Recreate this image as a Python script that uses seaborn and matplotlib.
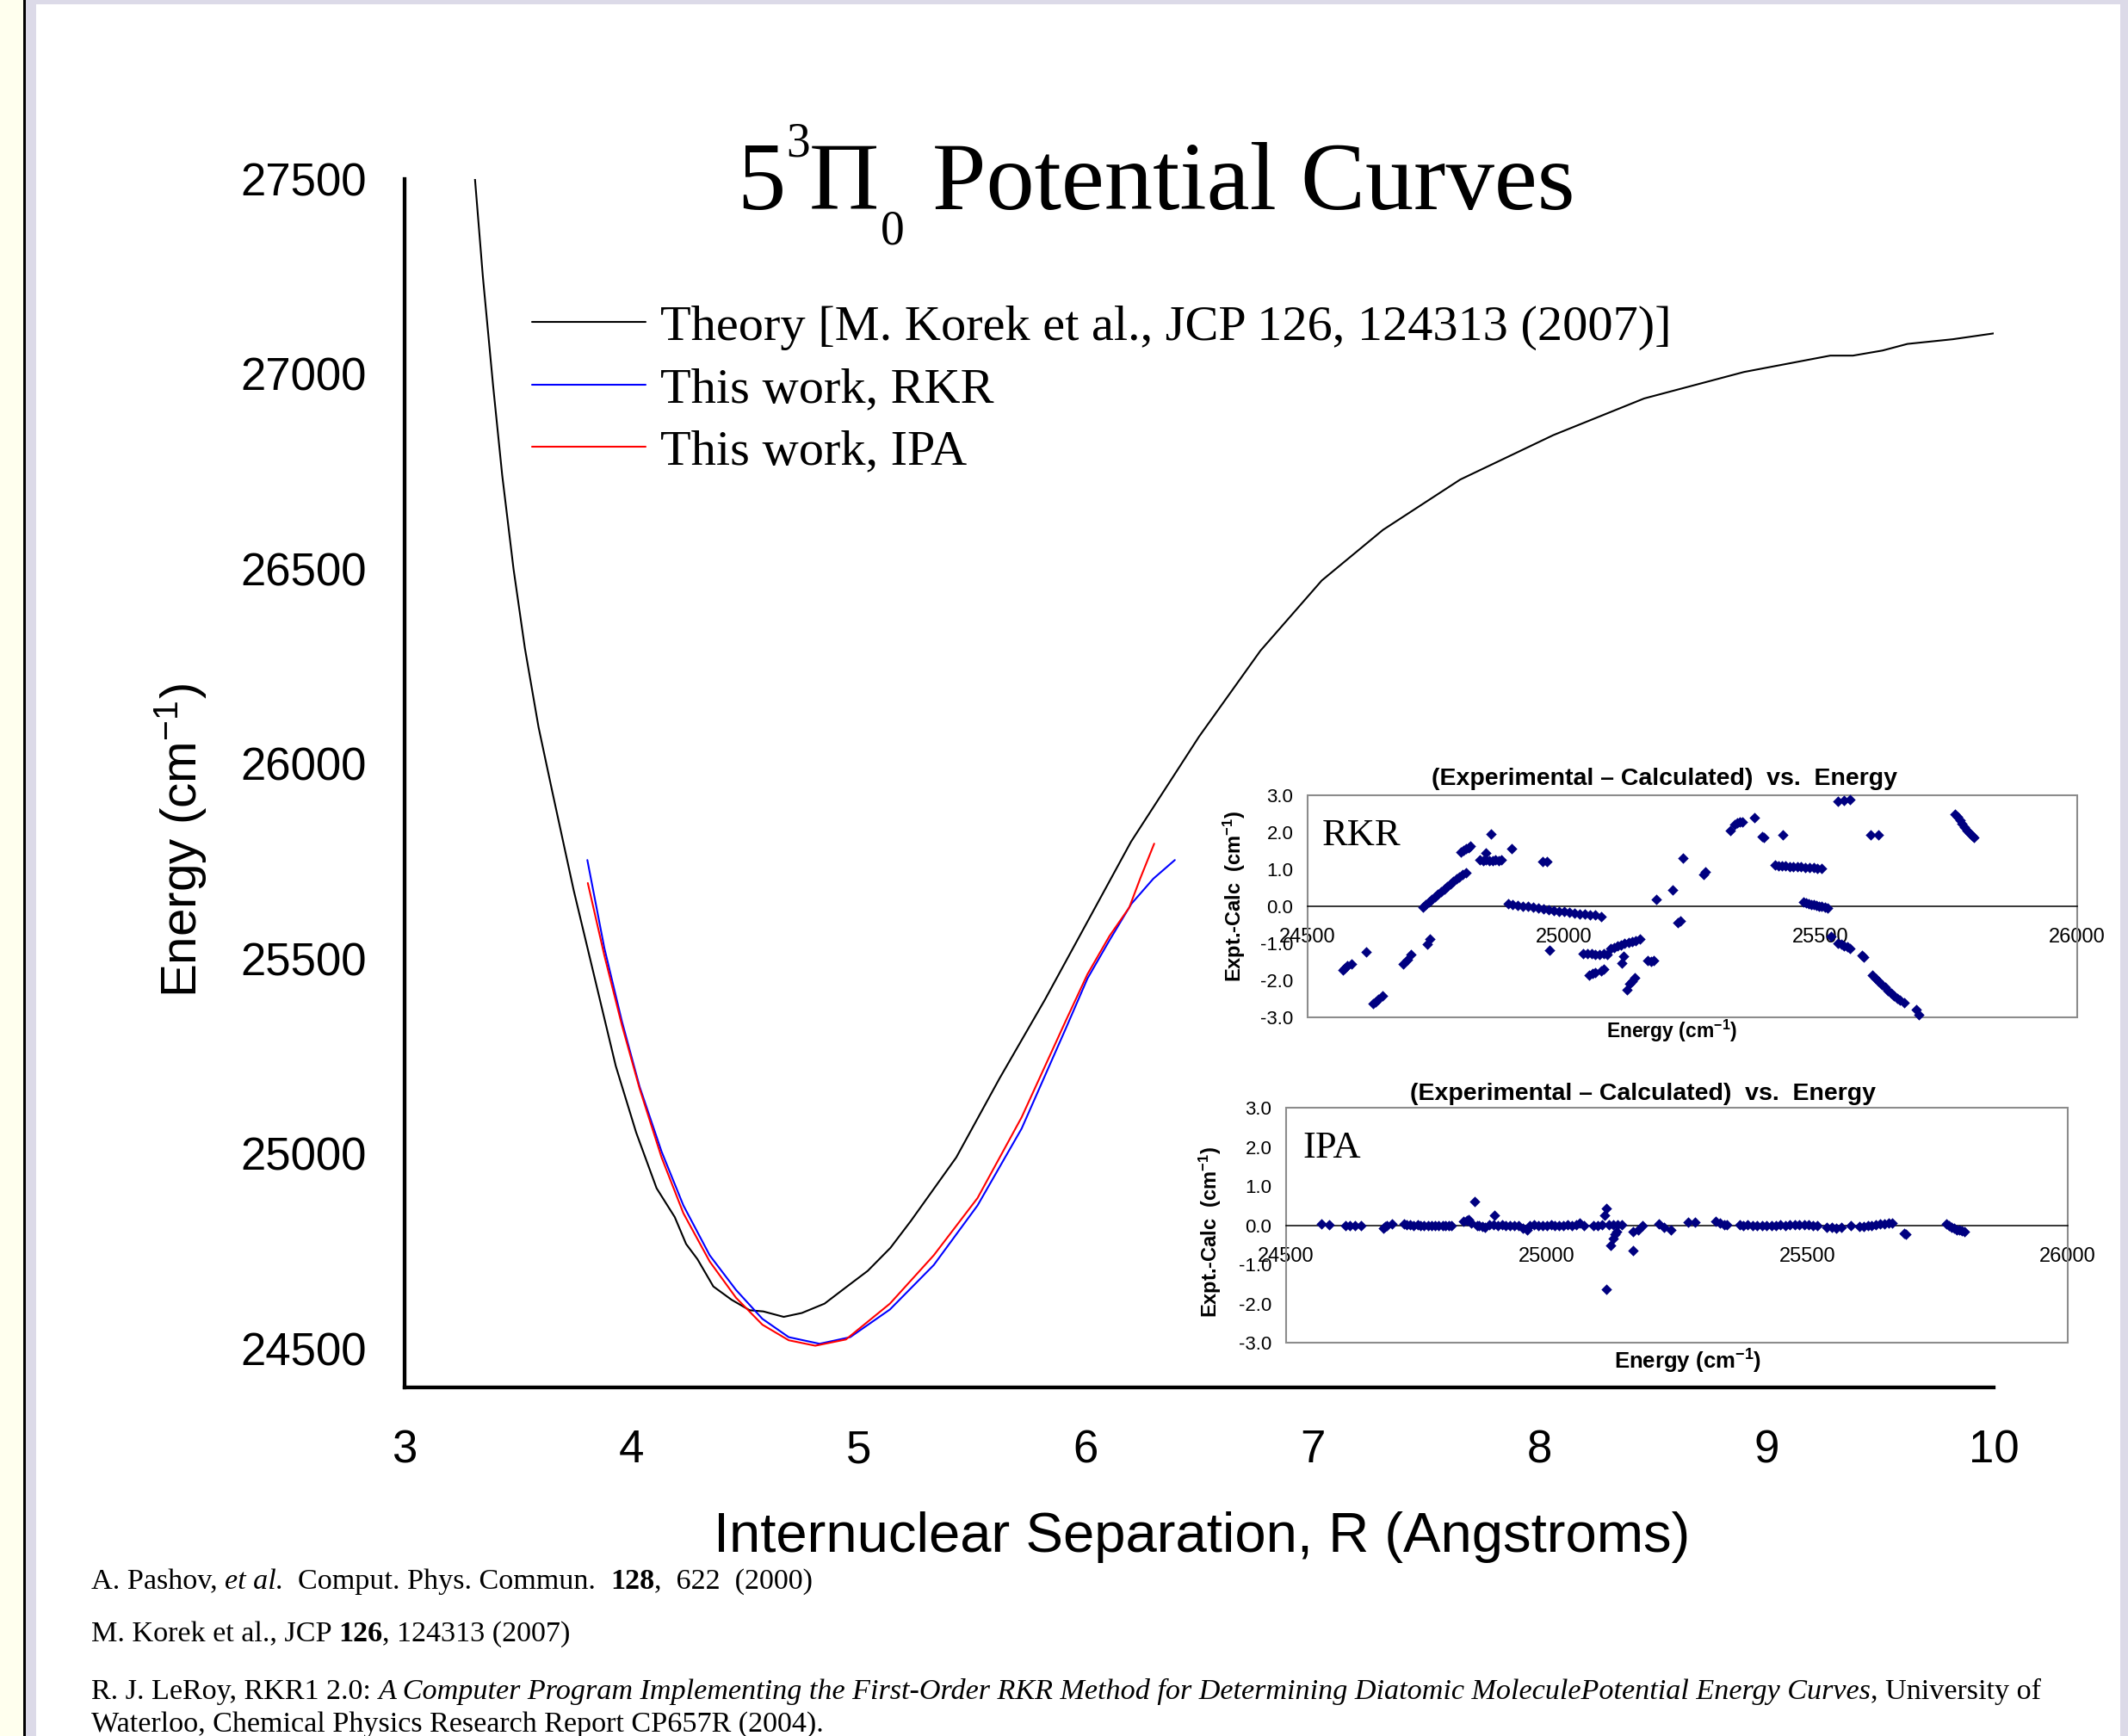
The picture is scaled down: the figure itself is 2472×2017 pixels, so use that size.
import numpy as np
import pandas as pd
import matplotlib
matplotlib.use("Agg")
import matplotlib.pyplot as plt
from matplotlib.patches import Rectangle
from matplotlib.font_manager import FontProperties
import seaborn as sns

W, H, DPI = 2472, 2017, 100

# ---------------- potential curves ----------------
theory_R = [3.31, 3.345, 3.39, 3.43, 3.48, 3.53, 3.59, 3.65, 3.745, 3.81, 3.93, 4.02,
            4.11, 4.19, 4.24, 4.29, 4.36, 4.44, 4.52, 4.58, 4.67, 4.75, 4.85, 4.94,
            5.04, 5.14, 5.23, 5.43, 5.62, 5.82, 6.01, 6.20, 6.50, 6.77, 7.04, 7.31,
            7.65, 8.06, 8.46, 8.90, 9.28, 9.38, 9.51, 9.62, 9.82, 10.0]
theory_E = [27500, 27248, 26969, 26740, 26499, 26296, 26094, 25930, 25675, 25517, 25225, 25054,
            24911, 24837, 24768, 24729, 24659, 24625, 24598, 24595, 24581, 24591, 24615, 24655,
            24699, 24758, 24827, 24990, 25192, 25394, 25597, 25800, 26070, 26290, 26470, 26600,
            26729, 26843, 26937, 27005, 27047, 27047, 27060, 27077, 27089, 27104]

rkr_R = [3.805, 3.88, 3.957, 4.035, 4.132, 4.228, 4.344, 4.46, 4.576, 4.692, 4.828,
         4.963, 5.138, 5.331, 5.524, 5.718, 5.912, 6.008, 6.105, 6.202, 6.298, 6.393]
rkr_E = [25753, 25527, 25340, 25172, 25005, 24867, 24739, 24650, 24576, 24529, 24512,
         24529, 24600, 24714, 24867, 25064, 25320, 25449, 25547, 25641, 25705, 25753]

ipa_R = [3.807, 3.88, 3.957, 4.035, 4.132, 4.228, 4.344, 4.46, 4.576, 4.692, 4.809,
         4.944, 5.138, 5.331, 5.524, 5.718, 5.912, 6.008, 6.105, 6.192, 6.24, 6.302]
ipa_E = [25694, 25508, 25330, 25167, 24990, 24847, 24723, 24630, 24561, 24521, 24507,
         24523, 24615, 24739, 24886, 25093, 25340, 25460, 25558, 25631, 25705, 25795]

series_labels = ["Theory [M. Korek et al., JCP 126, 124313 (2007)]",
                 "This work, RKR",
                 "This work, IPA"]

x_ticks = [3, 4, 5, 6, 7, 8, 9, 10]
y_ticks = [24500, 25000, 25500, 26000, 26500, 27000, 27500]

# ---------------- residuals (Expt - Calc) ----------------
rkr_res_E = [24568, 24572, 24577, 24585, 24614, 24628, 24633, 24638, 24646, 24687, 24694, 24701,
             24734, 24739,
             24724, 24730, 24736, 24742, 24748, 24754, 24760, 24766, 24772, 24778, 24784, 24790,
             24796, 24802, 24809,
             24798, 24803, 24808, 24813, 24817, 24848, 24857,
             24836, 24842, 24848, 24854, 24860, 24866, 24872, 24878, 24897, 24958, 24967, 24971,
             24891, 24900, 24910, 24920, 24930, 24940, 24950, 24960, 24970, 24980, 24990, 25000,
             25010, 25020, 25030, 25040, 25050, 25060, 25072,
             25037, 25045, 25053, 25061, 25069, 25077, 25084,
             25049, 25055, 25061, 25072, 25078,
             25090, 25097, 25104, 25111, 25118, 25125, 25132, 25140, 25148,
             25116, 25113, 25123, 25128, 25133, 25137, 25163, 25170, 25175,
             25180, 25212, 25222, 25226, 25231, 25271, 25275,
             25323, 25333, 25338, 25343, 25347, 25371, 25386, 25390, 25426,
             25411, 25418, 25425, 25432, 25440, 25447, 25455, 25462, 25470, 25478, 25486, 25494, 25502,
             25467, 25472, 25477, 25482, 25487, 25492, 25497, 25502, 25508, 25514,
             25534, 25545, 25557, 25520,
             25534, 25540, 25546, 25552, 25557, 25580, 25584, 25598, 25612,
             25601, 25607, 25613, 25619, 25625, 25631, 25637, 25643, 25649, 25655, 25662,
             25686, 25691,
             25761, 25766, 25771, 25776, 25781, 25786, 25791, 25795, 25799]
rkr_res = [-1.73, -1.68, -1.61, -1.55, -1.24, -2.63, -2.57, -2.52, -2.43, -1.56, -1.45, -1.31,
           -1.02, -0.88,
           -0.02, 0.05, 0.12, 0.19, 0.26, 0.33, 0.40, 0.47, 0.54, 0.61, 0.68, 0.74,
           0.80, 0.85, 0.90,
           1.47, 1.51, 1.55, 1.58, 1.62, 1.45, 1.96,
           1.25, 1.24, 1.25, 1.24, 1.24, 1.25, 1.24, 1.26, 1.55, 1.22, 1.22, -1.19,
           0.07, 0.05, 0.03, 0.01, -0.01, -0.03, -0.05, -0.07, -0.09, -0.11, -0.13, -0.15,
           -0.17, -0.19, -0.21, -0.22, -0.24, -0.24, -0.27,
           -1.28, -1.29, -1.29, -1.30, -1.30, -1.29, -1.30,
           -1.85, -1.81, -1.78, -1.74, -1.70,
           -1.15, -1.11, -1.07, -1.04, -1.01, -0.98, -0.95, -0.92, -0.88,
           -1.34, -1.53, -2.25, -2.10, -2.02, -1.92, -1.46, -1.50, -1.46,
           0.19, 0.44, -0.44, -0.40, 1.30, 0.87, 0.92,
           2.05, 2.20, 2.25, 2.27, 2.29, 2.39, 1.88, 1.86, 1.92,
           1.12, 1.10, 1.10, 1.09, 1.08, 1.08, 1.07, 1.06, 1.05, 1.04, 1.04, 1.03, 1.02,
           0.12, 0.09, 0.07, 0.05, 0.04, 0.02, 0.01, -0.01, -0.03, -0.05,
           2.84, 2.86, 2.89, -0.82,
           -0.99, -1.03, -1.07, -1.10, -1.13, -1.33, -1.38, 1.93, 1.93,
           -1.87, -1.95, -2.03, -2.11, -2.19, -2.27, -2.35, -2.42, -2.48, -2.54, -2.61,
           -2.79, -2.92,
           2.49, 2.41, 2.32, 2.23, 2.14, 2.05, 1.97, 1.91, 1.86]

ipa_res_E = [24568, 24583, 24614, 24623, 24632, 24644, 24686, 24690, 24694, 24703,
             24726, 24732, 24738, 24745, 24752, 24758, 24765, 24772, 24779, 24786, 24793, 24800,
             24806, 24812, 24818,
             24841, 24847, 24851, 24855, 24861, 24866, 24870, 24876, 24882, 24899,
             24890, 24898, 24906, 24914, 24922, 24930, 24938, 24946, 24954, 24962, 24968, 24976,
             24984, 24992, 25000, 25008, 25016, 25024, 25032, 25040, 25048, 25056, 25064, 25072,
             25090, 25098, 25106, 25114, 25111, 25114, 25123, 25127, 25131, 25135, 25120, 25128,
             25136, 25144,
             25166, 25166, 25175, 25184, 25215, 25226, 25238, 25272, 25284,
             25324, 25333, 25341, 25346,
             25370, 25378, 25386, 25395, 25404, 25413, 25422, 25431, 25440, 25449, 25458, 25467,
             25476, 25485, 25494, 25503, 25511, 25519,
             25537, 25547, 25556, 25566, 25583,
             25600, 25608, 25616, 25624, 25632, 25640, 25648, 25656, 25663,
             25686, 25690,
             25767, 25772, 25777, 25782, 25787, 25792, 25797, 25801]
ipa_res = [0.03, 0.01, 0.00, 0.00, 0.00, -0.01, -0.07, -0.04, -0.02, 0.04,
           0.03, 0.02, 0.01, 0.00, 0.01, -0.01, 0.00, -0.01, 0.00, -0.02, -0.01, -0.02,
           -0.02, -0.01, -0.02,
           0.09, 0.12, 0.15, 0.05, 0.60, 0.00, -0.02, -0.04, -0.06, 0.25,
           0.02, 0.01, 0.00, 0.01, 0.00, -0.01, 0.00, -0.02, -0.08, -0.13, -0.01, 0.01,
           0.00, -0.01, 0.00, 0.01, 0.00, -0.01, 0.00, 0.01, 0.00, 0.02, 0.05, 0.00,
           -0.02, 0.00, 0.01, 0.42, 0.25, -1.63, -0.51, -0.35, -0.24, -0.17, 0.01, 0.02,
           0.01, 0.02,
           -0.64, -0.17, -0.13, -0.02, 0.03, -0.06, -0.13, 0.07, 0.07,
           0.09, 0.05, 0.01, 0.01,
           0.01, 0.00, 0.01, -0.02, -0.01, -0.02, 0.00, -0.01, 0.00, 0.01, 0.00, 0.01,
           0.02, 0.01, 0.02, 0.01, 0.00, -0.02,
           -0.05, -0.06, -0.07, -0.06, -0.02,
           -0.04, -0.03, -0.01, 0.00, 0.02, 0.03, 0.04, 0.05, 0.05,
           -0.20, -0.22,
           0.03, -0.01, -0.05, -0.08, -0.11, -0.13, -0.15, -0.17]

inset_x_ticks = [24500, 25000, 25500, 26000]
inset_y_ticks = [-3.0, -2.0, -1.0, 0.0, 1.0, 2.0, 3.0]

# ---------------- styling ----------------
sns.set_theme(style="white")
plt.rcParams["font.family"] = ["Liberation Sans", "DejaVu Sans"]
plt.rcParams["mathtext.fontset"] = "custom"
plt.rcParams["mathtext.rm"] = "Liberation Sans"
plt.rcParams["mathtext.it"] = "Liberation Sans:italic"
plt.rcParams["mathtext.bf"] = "Liberation Sans:bold"
for key in ["text.color", "axes.labelcolor", "xtick.color", "ytick.color"]:
    plt.rcParams[key] = "black"

SERIF = ["Liberation Serif", "DejaVu Serif"]
NAVY = "#000080"
LAVENDER = "#DCDAE8"

fig = plt.figure(figsize=(W / DPI, H / DPI), dpi=DPI, facecolor="white")


def box(x0, y0, x1, y1):
    return [x0 / W, 1 - y1 / H, (x1 - x0) / W, (y1 - y0) / H]


def fpt(x, y):
    return x / W, 1 - y / H


# slide frame
for (x0, y0, x1, y1, c) in [(0, 0, 27, H, "#FFFFEE"), (27, 0, 29.5, H, "black"),
                            (29.5, 0, 42, H, LAVENDER), (29.5, 0, W, 5, LAVENDER),
                            (2463, 0, W, H, LAVENDER)]:
    fig.add_artist(Rectangle((x0 / W, 1 - y1 / H), (x1 - x0) / W, (y1 - y0) / H,
                             transform=fig.transFigure, facecolor=c, edgecolor="none", zorder=0))

# ---------------- main plot ----------------
ax = fig.add_axes(box(470, 208, 2316, 1612))
ax.set_facecolor("none")

curves = [(theory_R, theory_E, "black"), (rkr_R, rkr_E, "#0000FF"), (ipa_R, ipa_E, "#FF0000")]
for (r, e, c), lab in zip(curves, series_labels):
    sns.lineplot(data=pd.DataFrame({"R": r, "E": e}), x="R", y="E", ax=ax, color=c,
                 lw=1.8, sort=False, estimator=None, label=lab)
ax.lines[2].set_zorder(2.2)

ax.set_xlim(3, 10)
ax.set_ylim(24400, 27500)
ax.set_xticks(x_ticks)
ax.set_xticks(np.arange(3.5, 10, 1.0), minor=True)
ax.set_yticks(y_ticks)
ax.set_yticks(np.arange(24750, 27500, 500), minor=True)
ax.set_xticklabels([str(v) for v in x_ticks])
ax.set_yticklabels([str(v) for v in y_ticks])
for sp in ["top", "right"]:
    ax.spines[sp].set_visible(False)
for sp in ["left", "bottom"]:
    ax.spines[sp].set_linewidth(3.1)
    ax.spines[sp].set_color("black")
ax.tick_params(which="major", direction="out", length=18.7, width=3.1, color="black",
               labelsize=38, labelcolor="black")
ax.tick_params(which="minor", direction="out", length=8.6, width=3.1, color="black")
ax.tick_params(axis="x", which="major", pad=16)
ax.tick_params(axis="y", which="major", pad=13)

ax.set_xlabel("Internuclear Separation, R (Angstroms)", fontsize=47, va="baseline")
ax.xaxis.set_label_coords((1396 - 470) / 1846, (1612 - 1803) / 1404)
ax.set_ylabel("Energy (cm$^{-1}$)", fontsize=42, va="center")
ax.yaxis.set_label_coords((209 - 470) / 1846, (1612 - 977) / 1404)

handles, labels = ax.get_legend_handles_labels()
for h in handles:
    h.set_linewidth(1.5)
leg = ax.legend(handles, labels, loc="upper left", bbox_to_anchor=fpt(618, 354),
                bbox_transform=fig.transFigure, frameon=False,
                prop={"family": SERIF, "size": 42}, handlelength=2.26,
                handletextpad=0.3, labelspacing=0.33, borderpad=0, borderaxespad=0)

# ---------------- title ----------------
title_pieces = [("5", 856, 243, 81), ("3", 913, 182, 40), ("\u03a0", 940, 243, 81),
                ("0", 1023, 284, 40), ("Potential Curves", 1083, 243, 81)]
for s, x, y, size in title_pieces:
    fig.text(*fpt(x, y), s, fontsize=size, family=SERIF, ha="left", va="baseline",
             color="black")


# ---------------- residual insets ----------------
def inset(rect_px, e, res, tag, tag_xy, title_xy, xlab_xy, ylab_xy, xlab_size):
    x0, y0, x1, y1 = rect_px
    axi = fig.add_axes(box(x0, y0, x1, y1))
    axi.set_facecolor("white")
    sns.scatterplot(x=e, y=res, ax=axi, marker="D", s=40, color=NAVY, linewidth=0,
                    zorder=3, clip_on=False)
    axi.set_xlim(24500, 26000)
    axi.set_ylim(-3, 3)
    for sp in ["top", "right", "left"]:
        axi.spines[sp].set_visible(False)
    axi.spines["bottom"].set_position(("data", 0))
    axi.spines["bottom"].set_color("black")
    axi.spines["bottom"].set_linewidth(1.1)
    axi.add_patch(Rectangle((0, 0), 1, 1, transform=axi.transAxes, fill=False,
                            edgecolor="#8c8c8c", lw=1.5, clip_on=False, zorder=1))
    axi.set_xticks(inset_x_ticks)
    axi.set_xticklabels([str(v) for v in inset_x_ticks])
    axi.set_yticks(inset_y_ticks)
    axi.set_yticklabels([f"{v:.1f}" for v in inset_y_ticks])
    axi.tick_params(axis="x", direction="out", length=4, width=1, color="black",
                    labelsize=17, pad=14, labelcolor="black")
    axi.tick_params(axis="y", direction="out", length=4, width=1, color="#8c8c8c",
                    labelsize=16, pad=8, labelcolor="black")
    axi.grid(False)
    w, h = x1 - x0, y1 - y0
    axi.set_xlabel("Energy (cm$^{\\mathbf{-1}}$)", fontsize=xlab_size, weight="bold",
                   va="center")
    axi.xaxis.set_label_coords((xlab_xy[0] - x0) / w, (y1 - xlab_xy[1]) / h)
    axi.set_ylabel("Expt.-Calc  (cm$^{\\mathbf{-1}}$)", fontsize=17, weight="bold",
                   va="center")
    axi.yaxis.set_label_coords((ylab_xy[0] - x0) / w, (y1 - ylab_xy[1]) / h)
    fig.text(*fpt(*title_xy), "(Experimental \u2013 Calculated)  vs.  Energy", fontsize=20.5,
             weight="bold", ha="center", va="center")
    fig.text(*fpt(*tag_xy), tag, fontsize=32, family=SERIF, ha="left", va="baseline")
    return axi


inset((1519, 924, 2413, 1182), rkr_res_E, rkr_res, "RKR", (1536, 982), (1934, 905),
      (1942, 1198), (1434, 1041), 16.5)
inset((1494, 1287, 2402, 1560), ipa_res_E, ipa_res, "IPA", (1513, 1345), (1909, 1271),
      (1960, 1582), (1406, 1431), 18.5)

# ---------------- references ----------------
renderer = fig.canvas.get_renderer()


def run_width(s, prop):
    w1, _, _ = renderer.get_text_width_height_descent("I" + s + "I", prop, ismath=False)
    w0, _, _ = renderer.get_text_width_height_descent("II", prop, ismath=False)
    return w1 - w0


def write_runs(x, y, runs, size):
    for s, style, weight in runs:
        prop = FontProperties(family=SERIF, style=style, weight=weight, size=size)
        fig.text(*fpt(x, y), s, fontproperties=prop, ha="left", va="baseline")
        x += run_width(s, prop)


ref_size = 24.6
write_runs(106, 1846, [("A. Pashov, ", "normal", "normal"), ("et al.", "italic", "normal"),
                       ("  Comput. Phys. Commun.  ", "normal", "normal"),
                       ("128", "normal", "bold"), (",  622  (2000)", "normal", "normal")], ref_size)
write_runs(106, 1907, [("M. Korek et al., JCP ", "normal", "normal"), ("126", "normal", "bold"),
                       (", 124313 (2007)", "normal", "normal")], ref_size)
write_runs(106, 1974, [("R. J. LeRoy, RKR1 2.0: ", "normal", "normal"),
                       ("A Computer Program Implementing the First-Order RKR Method for "
                        "Determining Diatomic MoleculePotential Energy Curves", "italic", "normal"),
                       (", University of", "normal", "normal")], ref_size)
write_runs(106, 2012, [("Waterloo, Chemical Physics Research Report CP657R (2004).",
                        "normal", "normal")], ref_size)

fig.savefig("out.png", dpi=DPI, facecolor="white")
